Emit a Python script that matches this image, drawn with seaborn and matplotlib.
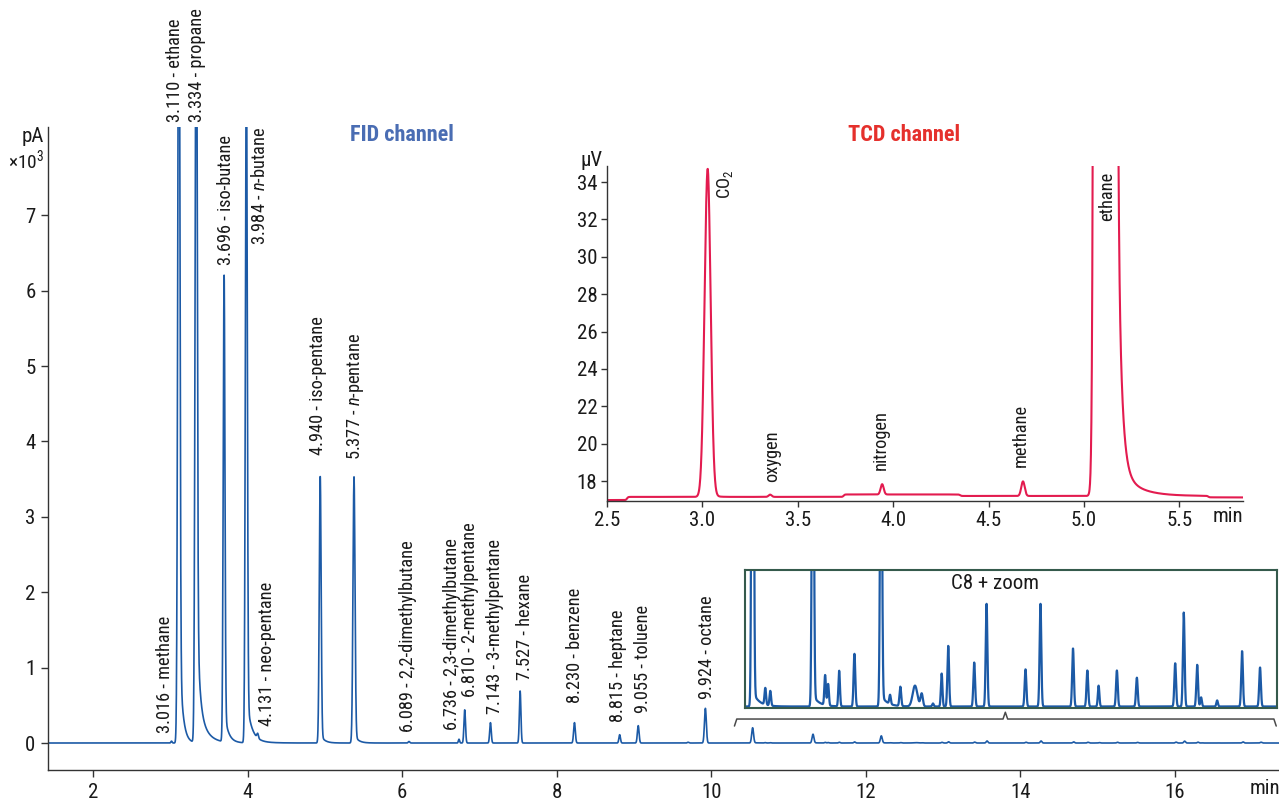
import numpy as np
import pandas as pd
import matplotlib
matplotlib.use("Agg")
import matplotlib.pyplot as plt
import matplotlib.font_manager as fm
import seaborn as sns

# ---------------- FID channel: labelled peaks ----------------
fid_rt = [3.016, 3.110, 3.334, 3.696, 3.984, 4.131, 4.940, 5.377, 6.089,
          6.736, 6.810, 7.143, 7.527, 8.230, 8.815, 9.055, 9.924]
fid_name = ["methane", "ethane", "propane", "iso-butane", r"$\it{n}$-butane",
            "neo-pentane", "iso-pentane", r"$\it{n}$-pentane", "2,2-dimethylbutane",
            "2,3-dimethylbutane", "2-methylpentane", "3-methylpentane", "hexane",
            "benzene", "heptane", "toluene", "octane"]
fid_height = [0.025, 11.0, 10.0, 5.95, 9.0, 0.06, 3.47, 3.47, 0.02,
              0.05, 0.44, 0.27, 0.69, 0.27, 0.11, 0.23, 0.46]
fid_sigma = [0.008, 0.013, 0.013, 0.011, 0.012, 0.010, 0.012, 0.013, 0.010,
             0.008, 0.010, 0.010, 0.010, 0.011, 0.010, 0.011, 0.012]

# ---------------- FID channel: unlabelled C8+ peaks ----------------
c8_rt = [9.700, 10.535, 10.699, 10.764, 11.316, 11.475, 11.514, 11.657, 11.855,
         12.200, 12.317, 12.450, 12.640, 12.727, 12.873, 12.986, 13.071, 13.408,
         13.568, 14.073, 14.267, 14.689, 14.875, 15.021, 15.258, 15.517, 16.014,
         16.125, 16.299, 16.350, 16.558, 16.881, 17.114]
c8_height = [0.010, 0.200, 0.0044, 0.0039, 0.115, 0.0079, 0.0057, 0.0094, 0.0139,
             0.093, 0.0024, 0.0051, 0.0055, 0.0034, 0.0008, 0.0087, 0.0160, 0.0116,
             0.0271, 0.0098, 0.0271, 0.0153, 0.0095, 0.0055, 0.0095, 0.0076, 0.0114,
             0.0248, 0.0110, 0.0024, 0.0016, 0.0146, 0.0103]
c8_sigma = [0.010, 0.012, 0.010, 0.010, 0.012, 0.010, 0.010, 0.010, 0.011,
            0.012, 0.010, 0.011, 0.030, 0.015, 0.010, 0.010, 0.011, 0.011,
            0.011, 0.011, 0.011, 0.011, 0.011, 0.010, 0.011, 0.011, 0.011,
            0.011, 0.011, 0.010, 0.010, 0.011, 0.011]

# FID peak tailing (start time, amplitude, decay constant in min)
fid_tail_rt = [3.110, 3.334, 3.334, 3.696, 3.984, 3.984, 4.940, 5.377, 10.535, 11.316, 12.200]
fid_tail_amp = [1.6, 1.9, 0.64, 0.43, 0.58, 0.05, 0.12, 0.12, 0.004, 0.003, 0.003]
fid_tail_tau = [0.040, 0.030, 0.100, 0.050, 0.060, 0.150, 0.050, 0.050, 0.080, 0.080, 0.080]

# ---------------- TCD channel ----------------
tcd_name = ["CO$_2$", "oxygen", "nitrogen", "methane", "ethane"]
tcd_rt = [3.027, 3.355, 3.942, 4.680, 5.110]
tcd_height = [17.35, 0.12, 0.55, 0.78, 18800.0]
tcd_sigma = [0.016, 0.008, 0.008, 0.009, 0.0174]
tcd_tail_rt = [3.027, 5.174, 5.174]
tcd_tail_amp = [0.4, 17.0, 1.6]
tcd_tail_tau = [0.020, 0.019, 0.090]
tcd_baseline = 16.98
tcd_drift_t = [2.605, 3.740, 4.350, 5.650]
tcd_drift = [0.17, 0.13, -0.08, -0.08]


def trace(t, rts, heights, sigmas, tail_rts, tail_amps, tail_taus, base=0.0,
          drift_t=(), drift=()):
    y = np.full_like(t, base)
    for rt, h, s in zip(rts, heights, sigmas):
        y += h * np.exp(-0.5 * ((t - rt) / s) ** 2)
    for rt, a, tau in zip(tail_rts, tail_amps, tail_taus):
        dt = t - rt
        step = 0.5 * (1 + np.tanh(dt / 0.004))
        y += a * step * np.exp(-np.clip(dt, 0, None) / tau)
    for t0, d in zip(drift_t, drift):
        y += d * 0.5 * (1 + np.tanh((t - t0) / 0.006))
    return y


t_fid = np.arange(1.42, 17.35, 0.0015)
fid = pd.DataFrame({
    "time": t_fid,
    "signal": trace(t_fid, fid_rt + c8_rt, fid_height + c8_height, fid_sigma + c8_sigma,
                    fid_tail_rt, fid_tail_amp, fid_tail_tau),
})
t_tcd = np.arange(2.5, 5.835, 0.0008)
tcd = pd.DataFrame({
    "time": t_tcd,
    "signal": trace(t_tcd, tcd_rt, tcd_height, tcd_sigma, tcd_tail_rt, tcd_tail_amp,
                    tcd_tail_tau, base=tcd_baseline, drift_t=tcd_drift_t, drift=tcd_drift),
})

# ---------------- style ----------------
sns.set_style("ticks")

# prefer a narrow sans face for the condensed chromatogram lettering
_ttf = fm.fontManager.ttflist
_names = {f.name for f in _ttf}
FONT, STRETCH, SCALE = None, "normal", 1.0
for cand in ["Roboto Condensed", "Liberation Sans Narrow", "Noto Sans Condensed",
             "DejaVu Sans Condensed", "Arial Narrow"]:
    if cand in _names:
        FONT = cand
        break
if FONT is None:
    for fam in ["Noto Sans", "DejaVu Sans", "Roboto", "Liberation Sans", "Open Sans"]:
        if any(f.name == fam and f.stretch in ("condensed", "semi-condensed") for f in _ttf):
            FONT, STRETCH = fam, "condensed"
            break
if FONT is None:
    FONT, SCALE = "Liberation Sans", 0.8

plt.rcParams["font.family"] = [FONT, "DejaVu Sans"]
plt.rcParams["font.stretch"] = STRETCH
plt.rcParams["mathtext.fontset"] = "custom"
plt.rcParams["mathtext.rm"] = FONT
plt.rcParams["mathtext.it"] = FONT + ":italic"
plt.rcParams["mathtext.bf"] = FONT + ":bold"

FS = 15.0 * SCALE
FS_LAB = 13.2 * SCALE
FS_TITLE = 16.0 * SCALE

FID_BLUE = "#1c5aa6"
TCD_RED = "#e31b4f"
TXT = "#1a1a1a"
AX = "#333333"

W, H = 1279, 799
fig = plt.figure(figsize=(W / 100, H / 100), dpi=100)


def px_axes(x0, y0, x1, y1):
    return fig.add_axes([x0 / W, 1 - y1 / H, (x1 - x0) / W, (y1 - y0) / H])


# ---------------- main FID axes ----------------
ax = px_axes(48, 127, 1279, 770)
ax.set_facecolor("none")
sns.lineplot(data=fid, x="time", y="signal", ax=ax, color=FID_BLUE, lw=1.2,
             estimator=None, sort=False)
ax.set_xlim(1.418, 17.346)
ax.set_ylim(-0.358, 8.17)
ax.set_xticks(range(2, 17, 2))
ax.set_yticks(range(0, 8))
ax.set_xlabel("")
ax.set_ylabel("")
sns.despine(ax=ax)
for s in ("left", "bottom"):
    ax.spines[s].set_color(AX)
    ax.spines[s].set_linewidth(1.0)
ax.tick_params(direction="out", length=5, width=1, colors=AX, labelsize=FS,
               labelcolor=TXT, pad=4)

# peak labels: (x offset from retention time in min, label baseline in pA x 10^3)
fid_label_pos = [(-0.086, 0.13), (-0.049, 8.24), (0.008, 8.24), (0.025, 6.34),
                 (0.177, 6.60), (0.117, 0.22), (-0.028, 3.82), (0.014, 3.75),
                 (-0.008, 0.15), (-0.094, 0.17), (0.069, 0.61), (0.060, 0.39),
                 (0.064, 0.84), (0.008, 0.53), (-0.017, 0.28), (0.067, 0.40),
                 (0.018, 0.59)]
for rt, name, (dx, ly) in zip(fid_rt, fid_name, fid_label_pos):
    ax.text(rt + dx, ly, f"{rt:.3f} - {name}", rotation=90, ha="center", va="bottom",
            fontsize=FS_LAB, color=TXT, clip_on=False)

fig.text(44 / W, 1 - 137 / H, "pA", ha="right", va="center", fontsize=FS, color=TXT)
fig.text(44 / W, 1 - 160 / H, r"×10$^3$", ha="right", va="center", fontsize=FS * 0.93,
         color=TXT)
fig.text(1265 / W, 1 - 789 / H, "min", ha="center", va="center", fontsize=FS, color=TXT)
fig.text(402 / W, 1 - 135 / H, "FID channel", ha="center", va="center", fontsize=FS_TITLE,
         fontweight="bold", color="#4a6db3")
fig.text(904 / W, 1 - 135 / H, "TCD channel", ha="center", va="center", fontsize=FS_TITLE,
         fontweight="bold", color="#e5302c")

# bracket marking the zoomed retention window
bx0, bx1, by = 10.30, 17.31, 0.318
bxm = 0.5 * (bx0 + bx1)
ax.plot([bx0, bx0 + 0.03, bxm - 0.03, bxm, bxm + 0.03, bx1 - 0.03, bx1],
        [0.225, by, by, by + 0.09, by, by, 0.225], color="#4a4a4a", lw=1.1,
        clip_on=False, solid_joinstyle="round")

# ---------------- TCD inset ----------------
axt = px_axes(607, 166, 1243, 501)
axt.set_facecolor("none")
sns.lineplot(data=tcd, x="time", y="signal", ax=axt, color=TCD_RED, lw=1.5,
             estimator=None, sort=False)
axt.set_xlim(2.5, 5.833)
axt.set_ylim(16.93, 34.86)
axt.set_xticks([2.5, 3.0, 3.5, 4.0, 4.5, 5.0, 5.5])
axt.set_xticklabels(["2.5", "3.0", "3.5", "4.0", "4.5", "5.0", "5.5"])
axt.set_yticks(range(18, 35, 2))
axt.set_xlabel("")
axt.set_ylabel("")
sns.despine(ax=axt)
for s in ("left", "bottom"):
    axt.spines[s].set_color(AX)
    axt.spines[s].set_linewidth(1.0)
axt.tick_params(direction="out", length=4, width=1, colors=AX, labelsize=FS,
                labelcolor=TXT, pad=3)

tcd_label_pos = [(0.090, 34.68, "top"), (0.009, 17.96, "bottom"), (-0.009, 18.59, "bottom"),
                 (-0.012, 18.77, "bottom"), (0.013, 34.56, "top")]
for rt, name, (dx, ly, va) in zip(tcd_rt, tcd_name, tcd_label_pos):
    axt.text(rt + dx, ly, name, rotation=90, ha="center", va=va, fontsize=FS_LAB, color=TXT)

fig.text(603 / W, 1 - 160 / H, "µV", ha="right", va="center", fontsize=FS, color=TXT)
fig.text(1228 / W, 1 - 516 / H, "min", ha="center", va="center", fontsize=FS, color=TXT)

# ---------------- C8+ zoom inset ----------------
axz = px_axes(745, 570, 1277, 708)
axz.set_facecolor("white")
sns.lineplot(data=fid, x="time", y="signal", ax=axz, color=FID_BLUE, lw=1.6,
             estimator=None, sort=False)
axz.set_xlim(10.436, 17.334)
axz.set_ylim(-0.0004, 0.036)
axz.set_xticks([])
axz.set_yticks([])
axz.set_xlabel("")
axz.set_ylabel("")
for s in axz.spines.values():
    s.set_visible(True)
    s.set_color("#355a4c")
    s.set_linewidth(1.5)
axz.text(0.47, 0.905, "C8 + zoom", transform=axz.transAxes, ha="center", va="center",
         fontsize=FS, color=TXT)

fig.savefig("out.png", dpi=100)
